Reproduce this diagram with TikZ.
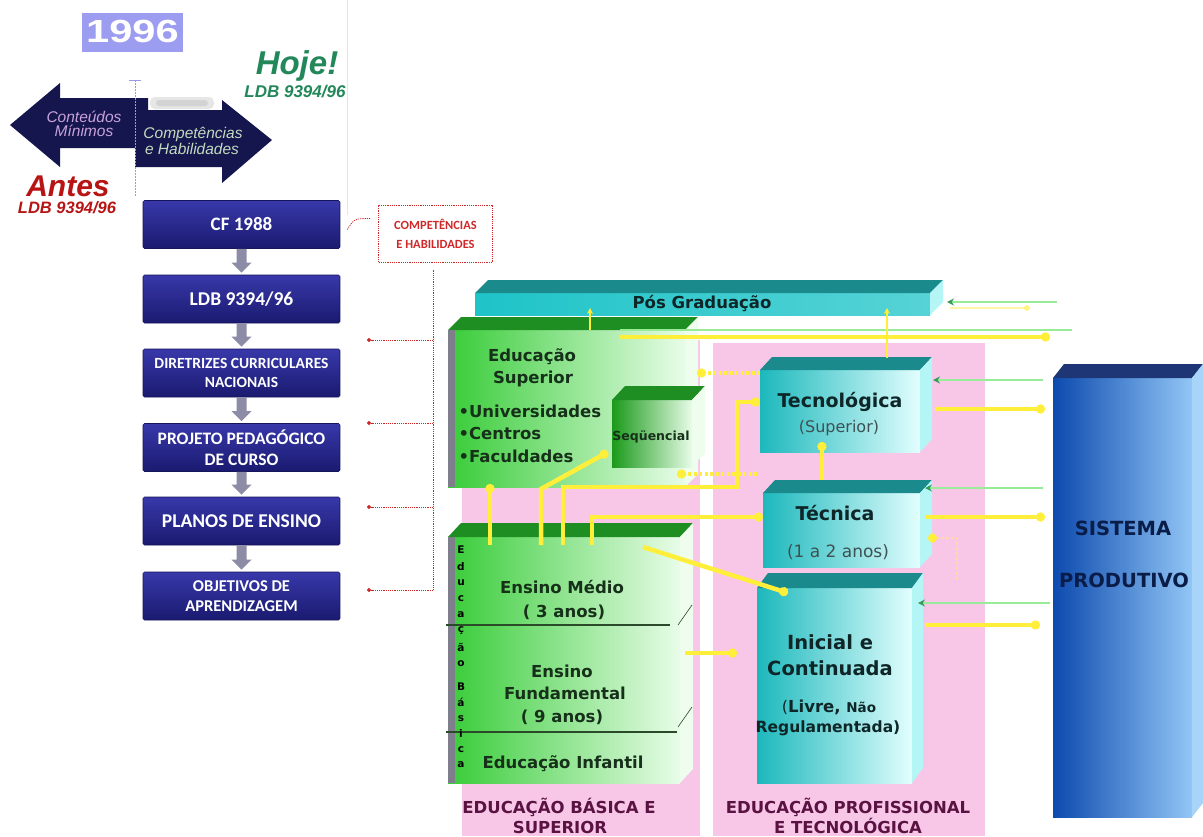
\documentclass[tikz,border=0pt]{standalone}
\usepackage{fontspec}
\setmainfont{DejaVu Sans}
\newfontfamily\carl{Carlito}
\newfontfamily\lib{Liberation Sans}
\usetikzlibrary{arrows.meta,calc}

\definecolor{navyA}{HTML}{3838AA}
\definecolor{navyB}{HTML}{1A1A70}
\definecolor{navyArrow}{HTML}{16164E}
\definecolor{lilac}{HTML}{9C9CF0}
\definecolor{lilacText}{HTML}{C8A2DA}
\definecolor{sage}{HTML}{C2DABE}
\definecolor{hojeGreen}{HTML}{22885A}
\definecolor{antesRed}{HTML}{B81414}
\definecolor{compRed}{HTML}{D02828}
\definecolor{downGray}{HTML}{8C8CA6}
\definecolor{pinkBand}{HTML}{F8C6E6}
\definecolor{grTop}{HTML}{1E8E22}
\definecolor{grL}{HTML}{38CC38}
\definecolor{grR}{HTML}{E8FCE8}
\definecolor{grSide}{HTML}{EEFDEE}
\definecolor{grDark}{HTML}{1A9A1A}
\definecolor{cyTop}{HTML}{1A8A8C}
\definecolor{cyL}{HTML}{1CB8BC}
\definecolor{cyR}{HTML}{E2FEFE}
\definecolor{cySide}{HTML}{B4F6F6}
\definecolor{posF}{HTML}{1EC4C8}
\definecolor{blTop}{HTML}{1E3676}
\definecolor{blL}{HTML}{0C4AAE}
\definecolor{blR}{HTML}{92C6F6}
\definecolor{blSide}{HTML}{A8D4FA}
\definecolor{ylw}{HTML}{FFEE3A}
\definecolor{peach}{HTML}{FFD8A8}
\definecolor{lgreen}{HTML}{98EC98}
\definecolor{tipGreen}{HTML}{3A9A5A}
\definecolor{stripGray}{HTML}{7E7E8C}
\definecolor{sepLine}{HTML}{2A4A2A}
\definecolor{txtG}{HTML}{16301A}
\definecolor{txtC}{HTML}{0E2628}
\definecolor{txtB}{HTML}{0A1C48}
\definecolor{maroon}{HTML}{5A1242}

\newcommand\fsz[2]{\fontsize{#1}{#2}\selectfont}
% top and right faces of a box whose front face is node #1
\newcommand\cubefaces[5]{%
  \fill[#4] (#1.north west) -- ++(#2,-#3) -- ($(#1.north east)+(#2,-#3)$) -- (#1.north east) -- cycle;
  \fill[#5] (#1.north east) -- ++(#2,-#3) -- ($(#1.south east)+(#2,-#3)$) -- (#1.south east) -- cycle;}
% grey block arrow between two stacked boxes
\newcommand\stackarrow[2]{%
  \fill[downGray] ($(#1.south)+(-5,0)$) -- ($(#2.north)+(-5,-12)$) -- ($(#2.north)+(-10,-12)$)
    -- ($(#2.north)+(0,-2)$) -- ($(#2.north)+(10,-12)$) -- ($(#2.north)+(5,-12)$)
    -- ($(#1.south)+(5,0)$) -- cycle;}

\begin{document}
\begin{tikzpicture}[x=1pt,y=-1pt,
  navybox/.style={rectangle, rounded corners=1.5pt, minimum width=197pt, minimum height=48pt,
    top color=navyA, bottom color=navyB, draw=navyB!80!black, line width=0.6pt,
    text=white, align=center, inner sep=0pt},
  front/.style={rectangle, anchor=north west, inner sep=0pt, outer sep=0pt},
  gtxt/.style={anchor=base, text=txtG, font=\bfseries\fsz{16.5}{18}},
  ctxt/.style={anchor=base, text=txtC},
  reddot/.style={draw=compRed, line width=0.8pt, dash pattern=on 1.2pt off 1pt},
  yl/.style={draw=ylw, line width=4.5pt},
  ylt/.style={draw=ylw, line width=2pt},
  ydot/.style={draw=ylw, line width=3.5pt, dash pattern=on 3pt off 2.5pt},
  ytip/.style={-{Circle[length=9pt,width=9pt]}},
  gl/.style={draw=lgreen, line width=2.2pt},
  gtip/.style={-{Stealth[length=7pt,width=7pt,color=tipGreen]}},
  lbl/.style={anchor=base, text=maroon, font=\bfseries\fsz{16.5}{18}, inner sep=0pt}]

\useasboundingbox (0,0) rectangle (1203,836);
\fill[white] (0,0) rectangle (1203,836);

% ---------------- left panel ----------------
\draw[black!10, line width=0.8pt] (347,0) -- (347,215);
\fill[lilac] (82,13) rectangle (183,52);
\node[anchor=base, text=white, font=\lib\bfseries\fsz{32}{32}] (yr) at (132.5,42) {\scalebox{1.3}[1]{1996}};

\fill[navyArrow] (10,125) -- (60,83) -- (60,98) -- (148,98) -- (148,148) -- (60,148) -- (60,167) -- cycle;
\fill[navyArrow] (135,110) -- (222,110) -- (222,100) -- (272,140) -- (222,183) -- (222,167) -- (135,167) -- cycle;
\fill[black!12, rounded corners=5pt, opacity=0.8] (150,97) rectangle (214,109);
\fill[black!22, rounded corners=3pt, opacity=0.6] (156,100) rectangle (208,106);
\draw[draw=black!25!blue!40, line width=1pt, dash pattern=on 1.5pt off 1.5pt] (135,80) -- (135,197);
\draw[draw=black!25!blue!40, line width=0.8pt] (129,80) -- (141,80);

\node[anchor=base, text=lilacText, font=\lib\itshape\fsz{15.5}{16}] (cm1) at (84,122) {Conteúdos};
\node[anchor=base, text=lilacText, font=\lib\itshape\fsz{15.5}{16}] (cm2) at (84,136) {Mínimos};
\node[anchor=base, text=sage, font=\lib\itshape\fsz{15.5}{16}] (ch1) at (193,138) {Competências};
\node[anchor=base, text=sage, font=\lib\itshape\fsz{15.5}{16}] (ch2) at (192,154) {e Habilidades};

\node[anchor=base, text=hojeGreen, font=\lib\bfseries\itshape\fsz{33}{33}] (hoje) at (297,74) {Hoje!};
\node[anchor=base, text=hojeGreen, font=\lib\bfseries\itshape\fsz{17}{17}] (ldbH) at (295,97) {LDB 9394/96};
\node[anchor=base, text=antesRed, font=\lib\bfseries\itshape\fsz{30}{30}, inner sep=0pt] (antes) at (68,196) {Antes};
\node[anchor=base, text=antesRed, font=\lib\bfseries\itshape\fsz{16.5}{17}, inner sep=0pt] (ldbA) at (67,213) {LDB 9394/96};

% chain of legal documents
\node[navybox, font=\carl\bfseries\fsz{19}{22}] (b1) at (241.5,224.5) {CF 1988};
\node[navybox, font=\carl\bfseries\fsz{19.5}{22}] (b2) at (241.5,299) {LDB 9394/96};
\node[navybox, font=\carl\bfseries\fsz{15.5}{19}] (b3) at (241.5,373) {DIRETRIZES CURRICULARES\\NACIONAIS};
\node[navybox, font=\carl\bfseries\fsz{17.5}{21}] (b4) at (241.5,447.5) {PROJETO PEDAGÓGICO\\DE CURSO};
\node[navybox, font=\carl\bfseries\fsz{19.5}{22}] (b5) at (241.5,521) {PLANOS DE ENSINO};
\node[navybox, font=\carl\bfseries\fsz{16.5}{20}] (b6) at (241.5,596) {OBJETIVOS DE\\APRENDIZAGEM};
\stackarrow{b1}{b2}
\stackarrow{b2}{b3}
\stackarrow{b3}{b4}
\stackarrow{b4}{b5}
\stackarrow{b5}{b6}

\node[reddot, rectangle, minimum width=114pt, minimum height=57pt, inner sep=0pt, align=center,
  text=compRed, font=\carl\bfseries\fsz{12.5}{19}] (comp) at (435.5,233.5) {COMPETÊNCIAS\\E HABILIDADES};
\draw[reddot] ($(b1.east)+(7,5)$) .. controls ($(b1.east)+(14,-6)$) .. ($(comp.west)+(-7,-15)$);
\draw[reddot] ($(comp.south)+(-2.5,8)$) -- (433,590);
\foreach \yy [count=\k] in {340,423,507,590}{
  \coordinate (rr\k) at (367,\yy);
  \draw[reddot, -{Circle[length=4pt,width=4pt]}] (433,\yy) -- (rr\k);
}

% ---------------- right panel ----------------
\fill[pinkBand] (462,340) rectangle (700,836);
\fill[pinkBand] (713,343) rectangle (985,836);

% Pós-graduação bar
\node[front, minimum width=455pt, minimum height=22pt, left color=posF, right color=posF!75!white] (pos) at (475,293) {};
\cubefaces{pos}{13}{13}{cyTop}{cySide}

% Educação Superior
\node[front, minimum width=237pt, minimum height=157pt, left color=grL, right color=grR] (esup) at (448,330) {};
\cubefaces{esup}{13}{13}{grTop}{grSide}
\fill[stripGray] (esup.north west) rectangle ($(esup.south west)+(7,0)$);

% Seqüencial
\node[front, minimum width=80pt, minimum height=67pt, left color=grDark, right color=grR] (seq) at (612,400) {};
\cubefaces{seq}{13}{14}{grTop}{grSide}

% Educação Básica
\node[front, minimum width=232pt, minimum height=246pt, left color=grL, right color=grR] (ebas) at (448,537) {};
\cubefaces{ebas}{13}{14}{grTop}{grSide}
\fill[stripGray] (ebas.north west) rectangle ($(ebas.south west)+(7,0)$);
\draw[sepLine, line width=1.2pt] (446,625) -- (670,625);
\draw[sepLine, line width=1.2pt] (446,732) -- (677,732);
\draw[sepLine, line width=0.6pt] (678,625) -- (692,605);
\draw[sepLine, line width=0.6pt] (678,727) -- (692,707);
\foreach \ch [count=\i] in {E,d,u,c,a,ç,ã,o}{
  \node[font=\bfseries\fsz{10.5}{10}, inner sep=0pt] (eb\i) at (461,{550+(\i-1)*16.2}) {\ch};
}
\foreach \ch [count=\i] in {B,á,s,i,c,a}{
  \node[font=\bfseries\fsz{10.5}{10}, inner sep=0pt] (bb\i) at (461,{687+(\i-1)*15.6}) {\ch};
}

% professional education blocks
\node[front, minimum width=160pt, minimum height=82pt, left color=cyL, right color=cyR] (tec) at (760,370) {};
\cubefaces{tec}{12}{13}{cyTop}{cySide}
\node[front, minimum width=157pt, minimum height=74pt, left color=cyL, right color=cyR] (tecn) at (763,493) {};
\cubefaces{tecn}{12}{13}{cyTop}{cySide}
\node[front, minimum width=155pt, minimum height=195pt, left color=cyL, right color=cyR] (ini) at (757,588) {};
\cubefaces{ini}{11}{15}{cyTop}{cySide}

% Sistema Produtivo
\node[front, minimum width=139pt, minimum height=439pt, left color=blL, right color=blR] (sis) at (1053,378) {};
\cubefaces{sis}{11}{14}{blTop}{blSide}

% ---------------- connectors ----------------
\coordinate (gPosFree) at (1057,302);
\draw[gl, gtip] (gPosFree) -- ($(pos.east |- gPosFree)+(17,0)$);
\coordinate (yPosFree) at (1030,308);
\draw[ylt, opacity=0.45, -{Circle[length=6pt,width=6pt]}] ($(pos.east |- yPosFree)+(20,0)$) -- (yPosFree);

\coordinate (gLongEnd) at (1072,330);
\draw[gl] ($(esup.north west |- gLongEnd)+(172,0)$) -- (gLongEnd);
\coordinate (yLongEnd) at (1050,337);
\draw[yl, ytip] ($(esup.north west)+(172,7)$) -- (yLongEnd);

\draw[ylt, -{Stealth[length=6pt,width=6pt]}] ($(esup.north west)+(142,0)$) -- ($(pos.south west)+(115,-7)$);
\draw[ylt, -{Stealth[length=6pt,width=6pt]}] ($(tec.north west)+(127,-12)$) -- ($(pos.south west)+(412,-7)$);

\draw[ydot, ytip] ($(tec.north west)+(0,3)$) -- ($(esup.north east)+(12,43)$);

\draw[gl, gtip] ($(sis.north west)+(-10,2)$) -- ($(tec.north east)+(13,10)$);
\draw[yl, ytip] ($(tec.north east)+(15,39)$) -- ($(sis.north west)+(-8,31)$);

\draw[yl, ytip] ($(tecn.north west)+(59,-13)$) -- ($(tec.south west)+(62,-10)$);

\draw[yl, ytip] ($(ebas.north west)+(42,8)$) -- ($(esup.south west)+(42,-3)$);
\draw[yl, ytip] ($(ebas.north west)+(93,8)$) -- ($(esup.south west)+(93,2)$) -- ($(seq.south west)+(-4,-15)$);
\coordinate (bendA) at (737,487);
\draw[yl, ytip] ($(ebas.north west)+(115,8)$) -- ($(esup.south west)+(115,0)$) -- (bendA)
  -- ($(bendA |- tec.north west)+(0,32)$) -- ($(tec.north west)+(0,32)$);
\draw[yl, ytip] ($(ebas.north west)+(144,8)$) -- ($(ebas.north west)+(144,-20)$) -- ($(tecn.north west)+(0,24)$);

\draw[ydot, ytip] ($(tec.south west)+(-3,22)$) -- ($(seq.south east)+(-15,7)$);

\draw[yl, ytip] ($(ebas.north west)+(195,10)$) -- ($(ini.north west)+(31,5)$);
\draw[yl, ytip] ($(ebas.north east)+(5,116)$) -- ($(ini.north west)+(-20,65)$);

\draw[gl, gtip] ($(sis.north west)+(-10,110)$) -- ($(tecn.north east)+(5,-5)$);
\draw[yl, ytip] ($(tecn.north east)+(5,24)$) -- ($(sis.north west)+(-8,139)$);
\draw[draw=peach, line width=2.5pt, dash pattern=on 3pt off 2pt, -{Circle[length=9pt,width=9pt,color=ylw]}]
  ($(ini.north east)+(45,-8)$) -- ($(tecn.south east)+(37,-29)$) -- ($(tecn.south east)+(8,-29)$);

\draw[gl, gtip] ($(sis.north west)+(-3,225)$) -- ($(ini.north east)+(6,15)$);
\draw[yl, ytip] ($(ini.north east)+(13,37)$) -- ($(sis.north west)+(-13,247)$);

% ---------------- texts ----------------
\node[anchor=base, text=txtC, font=\bfseries\fsz{16.5}{18}] (posT) at (702,308) {Pós Graduação};

\node[gtxt] (es1) at (532,361) {Educação};
\node[gtxt] (es2) at (533,383) {Superior};
\node[gtxt, anchor=base west] (es3) at (455,417) {•Universidades};
\node[gtxt, anchor=base west] (es4) at (455,439) {•Centros};
\node[gtxt, anchor=base west] (es5) at (455,462) {•Faculdades};
\node[anchor=base, text=txtG, font=\bfseries\fsz{12.5}{13}] (seqT) at (651,440) {Seqüencial};

\node[gtxt] (em1) at (562,593) {Ensino Médio};
\node[gtxt] (em2) at (564,617) {( 3 anos)};
\node[gtxt] (ef1) at (562,677) {Ensino};
\node[gtxt] (ef2) at (565,699) {Fundamental};
\node[gtxt] (ef3) at (562,722) {( 9 anos)};
\node[gtxt] (ei1) at (563,768) {Educação Infantil};

\node[ctxt, font=\bfseries\fsz{19}{20}] (tc1) at (840,407) {Tecnológica};
\node[ctxt, font=\fsz{16}{18}, text=txtC!80!white] (tc2) at (839,432) {(Superior)};
\node[ctxt, font=\bfseries\fsz{19}{20}] (tn1) at (835,520) {Técnica};
\node[ctxt, font=\fsz{17}{18}, text=txtC!80!white] (tn2) at (838,557) {(1 a 2 anos)};
\node[ctxt, font=\bfseries\fsz{19.5}{20}] (in1) at (830,649) {Inicial e};
\node[ctxt, font=\bfseries\fsz{19.5}{20}] (in2) at (830,675) {Continuada};
\node[ctxt] (in3) at (829,712) {{\fsz{16}{18}(}{\bfseries\fsz{16.5}{18}Livre, }{\bfseries\fsz{13.5}{18}Não}};
\node[ctxt, font=\bfseries\fsz{15.5}{18}] (in4) at (828,732) {Regulamentada)};

\node[anchor=base, text=txtB, font=\bfseries\fsz{19.5}{20}] (s1) at (1123,535) {SISTEMA};
\node[anchor=base, text=txtB, font=\bfseries\fsz{19.5}{20}] (s2) at (1124,587) {PRODUTIVO};

\node[lbl] (l1) at (559,813) {EDUCAÇÃO BÁSICA E};
\node[lbl] (l2) at (560,833) {SUPERIOR};
\node[lbl] (l3) at (848,813) {EDUCAÇÃO PROFISSIONAL};
\node[lbl] (l4) at (848,833) {E TECNOLÓGICA};
\end{tikzpicture}
\end{document}
